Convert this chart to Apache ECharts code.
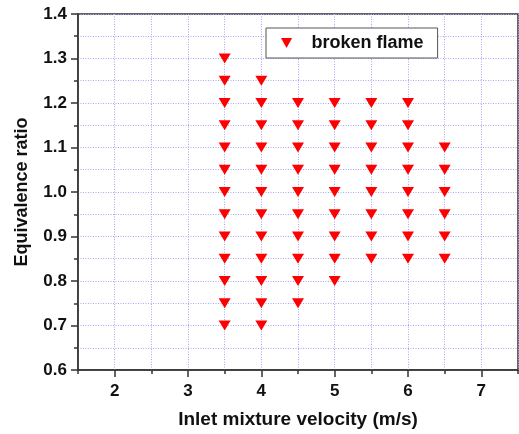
<!DOCTYPE html>
<html><head><meta charset="utf-8">
<script src="https://cdn.jsdelivr.net/npm/echarts@6/dist/echarts.min.js"></script>
<style>html,body{margin:0;padding:0;background:#fff}#c{width:519px;height:434px}</style>
</head><body><div id="c"></div>
<script>
const seriesName = 'broken flame';
const velocities = [3.5, 4.0, 4.5, 5.0, 5.5, 6.0, 6.5];
const phiAt3_5 = [0.70,0.75,0.80,0.85,0.90,0.95,1.00,1.05,1.10,1.15,1.20,1.25,1.30];
const phiAt4_0 = [0.70,0.75,0.80,0.85,0.90,0.95,1.00,1.05,1.10,1.15,1.20,1.25];
const phiAt4_5 = [0.75,0.80,0.85,0.90,0.95,1.00,1.05,1.10,1.15,1.20];
const phiAt5_0 = [0.80,0.85,0.90,0.95,1.00,1.05,1.10,1.15,1.20];
const phiAt5_5 = [0.85,0.90,0.95,1.00,1.05,1.10,1.15,1.20];
const phiAt6_0 = [0.85,0.90,0.95,1.00,1.05,1.10,1.15,1.20];
const phiAt6_5 = [0.85,0.90,0.95,1.00,1.05,1.10];
const xTickLabels = [2, 3, 4, 5, 6, 7];
const xAxisTitle = 'Inlet mixture velocity (m/s)';
const yAxisTitle = 'Equivalence ratio';

const phiColumns = [phiAt3_5, phiAt4_0, phiAt4_5, phiAt5_0, phiAt5_5, phiAt6_0, phiAt6_5];
const points = [];
velocities.forEach((v, i) => phiColumns[i].forEach(p => points.push([v, p])));

const font = 'Liberation Sans, Arial, sans-serif';
const gridLine = {show: true, lineStyle: {color: '#a6a6fa', type: [1, 1.5], width: 1}};
const chart = echarts.init(document.getElementById('c'));
chart.setOption({
  animation: false,
  grid: {left: 78, top: 14, right: 1, bottom: 64, show: true, borderColor: '#333', borderWidth: 1.5, backgroundColor: 'transparent'},
  legend: {
    left: 266, top: 28, padding: [6, 14, 6, 15],
    backgroundColor: '#fff', borderColor: '#555', borderWidth: 1,
    itemWidth: 12, itemHeight: 10,
    icon: 'path://M0,0 L10,0 L5,9 Z',
    textStyle: {fontFamily: font, fontWeight: 'bold', fontSize: 18, color: '#111', padding: [0, 0, 0, 14]},
    data: [seriesName]
  },
  xAxis: [{
    type: 'value', min: 1.5, max: 7.5, interval: 0.5,
    axisLine: {show: true, onZero: false, lineStyle: {color: '#333', width: 1.5}},
    axisTick: {show: true, length: 4, lineStyle: {color: '#333', width: 1.5}},
    axisLabel: {show: false},
    splitLine: gridLine
  }, {
    type: 'value', min: 1.5, max: 7.5, position: 'bottom',
    name: xAxisTitle, nameLocation: 'middle', nameGap: 40,
    nameTextStyle: {fontFamily: font, fontWeight: 'bold', fontSize: 19, color: '#111'},
    axisLine: {show: false},
    axisTick: {show: true, length: 7, customValues: xTickLabels, lineStyle: {color: '#333', width: 1.5}},
    axisLabel: {customValues: xTickLabels, fontFamily: font, fontWeight: 'bold', fontSize: 17, color: '#111', margin: 13},
    splitLine: {show: false}
  }],
  yAxis: {
    type: 'value', min: 0.6, max: 1.4, interval: 0.1,
    name: yAxisTitle, nameLocation: 'middle', nameGap: 47,
    nameTextStyle: {fontFamily: font, fontWeight: 'bold', fontSize: 18, color: '#111'},
    axisLine: {show: true, onZero: false, lineStyle: {color: '#333', width: 1.5}},
    axisTick: {show: true, length: 7, lineStyle: {color: '#333', width: 1.5}},
    minorTick: {show: true, splitNumber: 2, length: 4, lineStyle: {color: '#333', width: 1.5}},
    minorSplitLine: gridLine,
    splitLine: gridLine,
    axisLabel: {fontFamily: font, fontWeight: 'bold', fontSize: 17, color: '#111', margin: 11,
      formatter: v => v.toFixed(1)}
  },
  series: [{
    name: seriesName, type: 'scatter', xAxisIndex: 0,
    symbol: 'path://M0,0 L10,0 L5,9 Z', symbolSize: [12, 10],
    itemStyle: {color: '#ff0000', opacity: 1},
    data: points
  }]
});
</script></body></html>
